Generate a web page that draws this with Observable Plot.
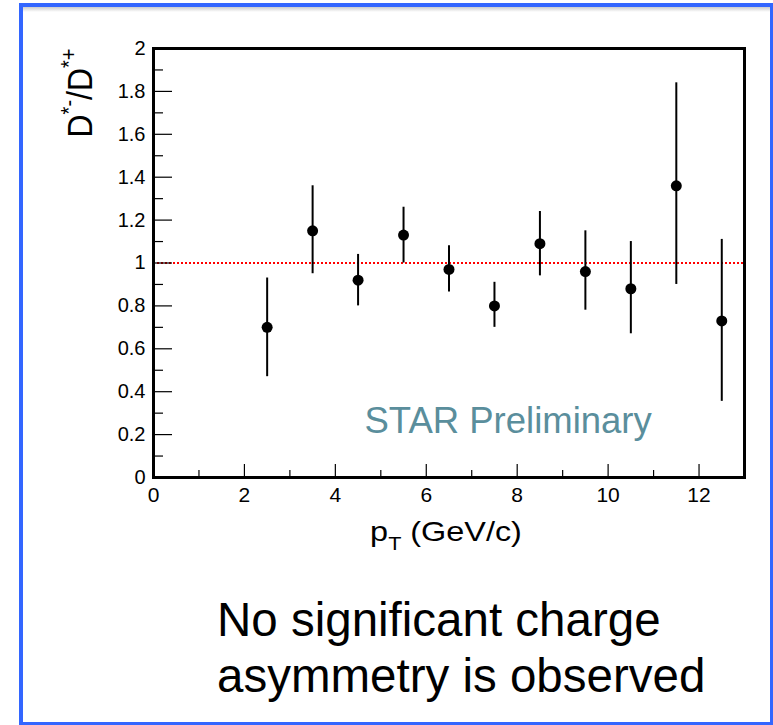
<!DOCTYPE html>
<html><head><meta charset="utf-8">
<script src="https://cdn.jsdelivr.net/npm/d3@7"></script>
<script src="https://cdn.jsdelivr.net/npm/@observablehq/plot@0.6"></script>
<style>
body{margin:0;background:#fff;}
#wrap{position:relative;width:773px;height:725px;overflow:hidden;font-family:"Liberation Sans",Arial,sans-serif;background:#fff;}
#box{position:absolute;left:19px;top:3px;right:0;bottom:0;border:4px solid #3366ff;border-right-width:3px;border-bottom-width:3px;}
#shadow{position:absolute;left:23px;right:3px;top:7px;height:5px;background:linear-gradient(#cccccc,#ffffff);}
#chart{position:absolute;left:0;top:0;}
#note{position:absolute;left:217px;top:592px;font-size:47.5px;line-height:56px;color:#000;white-space:nowrap;}
</style></head>
<body><div id="wrap"><div id="box"></div><div id="shadow"></div><div id="chart"></div><div id="note">No significant charge<br>asymmetry is observed</div></div>
<script>
// Data
const pt      = [2.5, 3.5, 4.5, 5.5, 6.5, 7.5, 8.5, 9.5, 10.5, 11.5, 12.5];
const ratio   = [0.70, 1.15, 0.92, 1.13, 0.97, 0.80, 1.09, 0.96, 0.88, 1.36, 0.73];
const errLow  = [0.47, 0.95, 0.80, 1.00, 0.865, 0.70, 0.94, 0.78, 0.67, 0.90, 0.355];
const errHigh = [0.93, 1.36, 1.04, 1.26, 1.08, 0.91, 1.24, 1.15, 1.10, 1.84, 1.11];

const yMajor = [0, 0.2, 0.4, 0.6, 0.8, 1, 1.2, 1.4, 1.6, 1.8, 2];
const yTickLabels = ["0", "0.2", "0.4", "0.6", "0.8", "1", "1.2", "1.4", "1.6", "1.8", "2"];
const yMinor = [0.1, 0.3, 0.5, 0.7, 0.9, 1.1, 1.3, 1.5, 1.7, 1.9];
const xMajor = [0, 2, 4, 6, 8, 10, 12];
const xTickLabels = ["0", "2", "4", "6", "8", "10", "12"];
const xMinor = [1, 3, 5, 7, 9, 11];
const refLine = [1];
const annotation = [{label: "STAR Preliminary", x: 7.8, y: 0.26}];

const rows = pt.map((p, i) => ({pt: p, r: ratio[i], lo: errLow[i], hi: errHigh[i]}));

const svg = Plot.plot({
  width: 773, height: 560,
  marginLeft: 153, marginRight: 29, marginTop: 48, marginBottom: 83,
  x: {domain: [0, 13], label: null},
  y: {domain: [0, 2], label: null},
  style: {fontFamily: '"Liberation Sans", Arial, sans-serif', background: "transparent", color: "#000", overflow: "visible"},
  marks: [
    Plot.ruleY(refLine, {stroke: "#ff0000", strokeWidth: 1.8, strokeDasharray: "2,2"}),
    Plot.axisY(yMajor, {tickSize: -19, tickFormat: () => "", label: null, strokeWidth: 1.2}),
    Plot.axisY(yMinor, {tickSize: -10, tickFormat: () => "", label: null, strokeWidth: 1.2}),
    Plot.axisY(yMajor, {tickSize: 0, tickPadding: 8, fontSize: 20, tickFormat: d => yTickLabels[yMajor.indexOf(d)], label: null}),
    Plot.axisX(xMajor, {tickSize: -13, tickFormat: () => "", label: null, strokeWidth: 1.2}),
    Plot.axisX(xMinor, {tickSize: -7, tickFormat: () => "", label: null, strokeWidth: 1.2}),
    Plot.axisX(xMajor, {tickSize: 0, tickPadding: 10, fontSize: 21, tickFormat: d => xTickLabels[xMajor.indexOf(d)], label: null}),
    Plot.text(annotation, {x: "x", y: "y", text: "label", fontSize: 36.5, fill: "#5a8e9c", textAnchor: "middle", lineAnchor: "middle"}),
    Plot.ruleX(rows, {x: "pt", y1: "lo", y2: "hi", stroke: "#000", strokeWidth: 2}),
    Plot.dot(rows, {x: "pt", y: "r", r: 5.5, fill: "#000", stroke: null}),
    Plot.frame({stroke: "#000", strokeWidth: 3})
  ]
});
document.getElementById("chart").appendChild(svg);

const s = d3.select(svg);
// Y axis label: D*-/D*+
const yl = s.append("text")
  .attr("transform", "translate(92,93) rotate(-90) scale(1,1.12)")
  .attr("text-anchor", "middle")
  .attr("font-size", 32)
  .attr("fill", "#000");
yl.append("tspan").text("D");
yl.append("tspan").attr("font-size", 20).attr("dy", -14).text("*-");
yl.append("tspan").attr("dy", 14).text("/D");
yl.append("tspan").attr("font-size", 20).attr("dy", -14).text("*+");

// X axis label: p_T (GeV/c)
const xl = s.append("text")
  .attr("transform", "translate(446,541) scale(1.2,1)")
  .attr("text-anchor", "middle")
  .attr("font-size", 27)
  .attr("fill", "#000");
xl.append("tspan").text("p");
xl.append("tspan").attr("font-size", 18).attr("dy", 9).text("T");
xl.append("tspan").attr("dy", -9).text(" (GeV/c)");
</script>
</body></html>
